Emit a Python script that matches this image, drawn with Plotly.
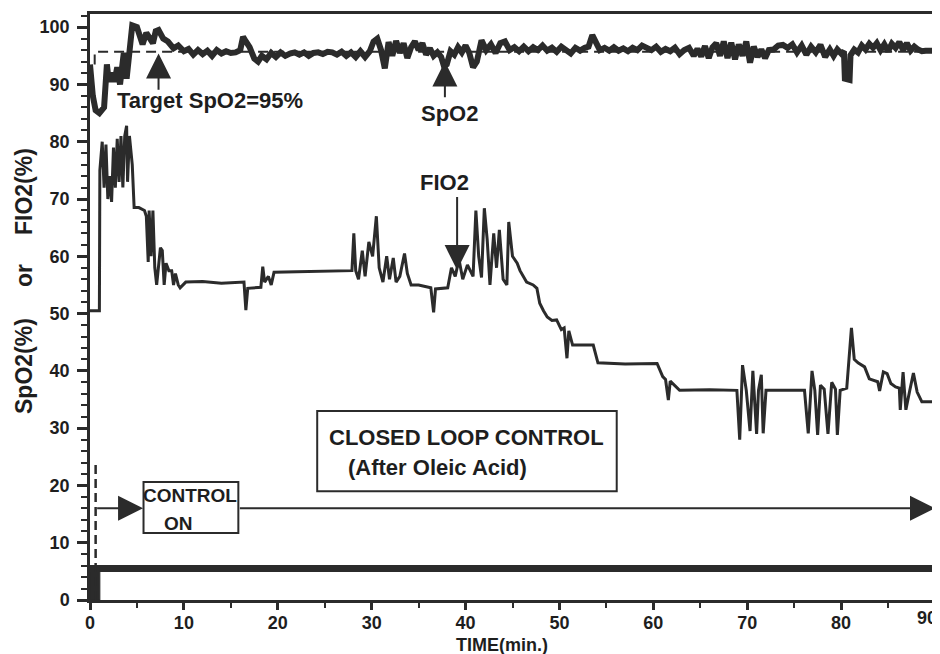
import plotly.graph_objects as go

# ---------------- data ----------------
spo2_t = [0, 0.3, 0.6, 1.0, 1.5, 1.8, 2.0, 2.3, 2.6, 2.9, 3.2, 3.6, 3.9, 4.2, 4.5, 5.0, 5.3, 5.6, 6.0, 6.4,
          6.7, 7.0, 7.3, 7.8, 8.3, 8.9, 9.4, 10.0, 10.5, 11.0, 11.5, 12.0, 12.5, 13.0, 13.5, 14.0, 14.5,
          15.0, 15.5, 16.0, 16.3, 16.6, 17.0, 17.5, 17.9, 18.3, 18.8, 19.3, 19.8, 20.3, 20.8, 21.3, 21.8,
          22.3, 22.8, 23.3, 23.8, 24.3, 24.8, 25.3, 25.8, 26.3, 26.8, 27.3, 27.8, 28.3, 28.8, 29.3, 29.8,
          30.2, 30.6, 31.0, 31.4, 31.8, 32.2, 32.6, 33.0, 33.4, 33.8, 34.2, 34.6, 35.0, 35.4, 35.8, 36.2,
          36.6, 37.0, 37.4, 37.7, 38.0, 38.4, 38.8, 39.2, 39.6, 40.0, 40.4, 40.8, 41.2, 41.7, 42.2, 42.7,
          43.2, 43.7, 44.2, 44.7, 45.2, 45.7, 46.2, 46.7, 47.2, 47.7, 48.2, 48.7, 49.2, 49.7, 50.2, 50.7,
          51.2, 51.7, 52.2, 52.7, 53.1, 53.5, 53.9, 54.3, 54.8, 55.3, 55.8, 56.3, 56.8, 57.3, 57.8, 58.3,
          58.8, 59.3, 59.8, 60.3, 60.8, 61.3, 61.8, 62.3, 62.8, 63.3, 63.8, 64.3, 64.7, 65.1, 65.5, 65.9,
          66.3, 66.7, 67.1, 67.5, 67.9, 68.3, 68.7, 69.1, 69.5, 69.9, 70.3, 70.7, 71.1, 71.5, 71.9, 72.3,
          72.8, 73.3, 73.8, 74.3, 74.8, 75.3, 75.8, 76.3, 76.8, 77.3, 77.8, 78.3, 78.8, 79.2, 79.6, 80.0,
          80.3, 80.4, 80.9, 81.0, 81.4, 81.8, 82.2, 82.6, 83.0, 83.4, 83.8, 84.2, 84.6, 85.0, 85.4, 85.8,
          86.2, 86.6, 87.0, 87.4, 87.8, 88.2, 88.6, 89.0, 90.0]
spo2_v = [93.5, 88, 85.5, 85, 86, 93.5, 90.5, 92, 90.5, 93, 90, 95.5, 91, 96, 100.3, 100, 98.3, 97, 99, 98,
          97.2, 99.3, 99.5, 98, 97.5, 96.3, 96.8, 95.8, 96.2, 95.2, 96, 95.3, 95.9, 95, 96, 95.4, 95.8,
          95.5, 95.6, 96, 98.3, 97.5, 96.5, 94.5, 94, 95, 94.4, 95.5, 94.8, 95.6, 95, 95.4, 95.6,
          95.2, 95.6, 95, 95.5, 95.6, 95.3, 95.7, 95.6, 95.2, 95.7, 95, 95.6, 94.8, 95.8, 94.8, 95.8,
          97.5, 98, 96, 92.8, 97.4, 95, 97.6, 95.5, 97.2, 94.6, 96.5, 97.5, 96, 97.2, 95.2, 96.3,
          95, 95.6, 94.8, 93.2, 93.5, 95.8, 95.2, 96.5, 95.6, 96.8, 95.5, 93, 94, 97.7, 96, 97,
          95.5, 97.2, 97.5, 96, 96.5, 95.8, 96.6, 95.8, 96.5, 96.0, 96.8, 95.9, 96.4, 95.7, 96.6, 96.0,
          95.4, 96.4, 95.9, 96.4, 96.6, 98.6, 97.2, 96.0, 96.4, 95.9, 96.5, 95.9, 96.3, 95.8, 96.4, 96.0,
          96.8, 96.3, 96.0, 96.6, 95.7, 96.2, 95.8, 96.4, 95.3, 96.0, 96.4, 95.0, 96.2, 94.9, 96.7, 94.6,
          96.5, 97.2, 95.0, 97.5, 94.6, 97.3, 94.4, 97.0, 95.0, 97.5, 93.8, 96.6, 94.8, 96.1, 94.6, 96.0,
          96.1, 96.8, 96.9, 96.4, 97.0, 95.6, 96.8, 95.2, 96.6, 95.6, 96.9, 94.8, 96.1, 95.0, 96.1, 95.4,
          95.8, 91, 90.8, 95.1, 96.1, 95.6, 96.8, 96.1, 97.1, 96.4, 97.2, 96.0, 97.0, 95.8, 97.1, 96.4,
          97.4, 96.0, 97.2, 95.9, 96.6, 96.1, 95.8, 95.9, 95.9]

fio2_t = [0, 1.0, 1.05, 1.3, 1.5, 1.7, 1.9, 2.1, 2.3, 2.5, 2.7, 2.9, 3.1, 3.3, 3.5, 3.7, 3.9, 4.0, 4.2, 4.5,
          4.7, 5.2, 5.8, 6.0, 6.2, 6.3, 6.5, 6.7, 6.9, 7.1, 7.5, 7.7, 7.9, 8.1, 8.4, 8.7, 8.9, 9.1, 9.4,
          9.6, 10.2, 12.0, 14.0, 16.4, 16.6, 16.8, 18.2, 18.4, 18.6, 19.0, 19.3, 19.6, 22.0, 25.0, 27.9,
          28.1, 28.3, 28.6, 29.0, 29.3, 29.7, 30.1, 30.5, 30.8, 31.2, 31.6, 31.9, 32.3, 32.6, 33.0, 33.5,
          33.8, 34.2, 35.0, 36.3, 36.6, 36.8, 38.1, 38.5, 38.9, 39.3, 39.7, 40.2, 40.8, 41.1, 41.4, 41.7,
          42.0, 42.3, 42.6, 43.0, 43.3, 43.6, 44.0, 44.4, 44.6, 45.0, 45.5, 45.8, 46.5, 47.2, 47.6, 47.9,
          48.3, 48.7, 49.2, 49.7, 50.2, 50.5, 50.8, 51.0, 51.4, 53.6, 54.1, 57.0, 60.4, 61.0, 61.3, 61.6,
          61.8, 62.5, 62.8, 66.0, 68.9, 69.2, 69.5, 69.9, 70.3, 70.6, 71.0, 71.2, 71.5, 71.7, 72.0, 76.1,
          76.5, 76.9, 77.2, 77.5, 77.8, 78.2, 78.6, 79.0, 79.4, 79.6, 79.9, 80.6, 80.8, 81.1, 81.4, 81.8,
          82.5, 83.0, 83.9, 84.1, 84.5, 84.9, 85.3, 85.8, 86.2, 86.3, 86.6, 86.9, 87.3, 87.7, 88.1, 88.6, 90.0]
fio2_v = [50.5, 50.5, 75, 80, 72, 79.5, 70, 74, 69.5, 79, 72, 80.5, 73, 81, 72, 81, 82.8, 73, 81, 76,
          68.5, 68.5, 68, 67, 59, 68, 60, 68, 58, 55, 61.5, 61, 55, 58.8, 57.5, 57.5, 55, 57, 55,
          54.5, 55.5, 55.6, 55.3, 55.5, 50.6, 54.4, 54.6, 58.2, 55.5, 56.5, 55, 57.2, 57.3, 57.4, 57.5,
          64, 57.5, 56, 61, 56.5, 62.5, 60, 67, 58, 55.5, 60, 56, 59.7, 55.5, 56.5, 60.5,
          57, 55, 55, 54.5, 50.2, 54.3, 54.5, 58, 56.5, 59.5, 56, 58.5, 56.5, 68, 60, 56.3,
          68.4, 63, 55, 64, 58, 64.6, 56, 55, 66, 60, 58.8, 57.5, 55.5, 55, 54.4, 51.8,
          50.5, 49.4, 48.8, 48.9, 47.2, 47.5, 42.2, 47, 44.5, 44.5, 41.4, 41.2, 41.3, 39, 38.5, 34.9,
          38.2, 37.2, 36.6, 36.7, 36.6, 28, 41, 36.6, 29.5, 40, 29, 36.6, 39.3, 29.1, 36.6, 36.6,
          29.1, 40, 36.6, 28.8, 37.5, 36.8, 29, 38, 36.8, 28.8, 36.6, 37, 41, 47.5, 42, 41.4,
          40.7, 38.6, 38.1, 36.5, 39.8, 39.5, 37.8, 37.2, 37, 33.2, 39.8, 33.2, 36.5, 39.6, 36.3, 34.6, 34.6]

target_t = [0.5, 0.5, 90]
target_v = [93.5, 95.7, 95.7]

control_t = [0, 90]
control_v = [5.5, 5.5]
control_block_t = [0, 1.05, 1.05, 0, 0]
control_block_v = [0, 0, 5.5, 5.5, 0]

onset_t = [0.6, 0.6]
onset_v = [0, 24.4]

x_ticks = [0, 10, 20, 30, 40, 50, 60, 70, 80, 90]
y_ticks = [0, 10, 20, 30, 40, 50, 60, 70, 80, 90, 100]

INK = "#2b2b2b"
TXT = "#1e1e1e"
FONT = "Liberation Sans"

# page body has an 8px margin: figure is placed at (8, 8)
OFF = 8
W, H = 940 - OFF, 654 - OFF
PL, PR, PT, PB = 90, 935, 14, 600   # plot-area edges in screen pixels

fig = go.Figure()

fig.add_trace(go.Scatter(x=control_block_t, y=control_block_v, mode="lines", fill="toself",
                         fillcolor=INK, line=dict(color=INK, width=1), hoverinfo="skip"))
fig.add_trace(go.Scatter(x=control_t, y=control_v, mode="lines",
                         line=dict(color=INK, width=7), hoverinfo="skip"))
fig.add_trace(go.Scatter(x=onset_t, y=onset_v, mode="lines",
                         line=dict(color=INK, width=2.5, dash="9px,5px"), hoverinfo="skip"))
fig.add_trace(go.Scatter(x=target_t, y=target_v, mode="lines",
                         line=dict(color=INK, width=2, dash="10px,6px"), hoverinfo="skip"))
fig.add_trace(go.Scatter(x=fio2_t, y=fio2_v, mode="lines", name="FIO2",
                         line=dict(color=INK, width=3)))
fig.add_trace(go.Scatter(x=spo2_t, y=spo2_v, mode="lines", name="SpO2",
                         line=dict(color=INK, width=6)))

# boxes
fig.add_shape(type="rect", x0=5.7, x1=15.8, y0=11.7, y1=20.6, line=dict(color=INK, width=2))
fig.add_shape(type="rect", x0=24.2, x1=56.1, y0=19.0, y1=33.0, line=dict(color=INK, width=2))

tfont = dict(family=FONT, size=22, color=TXT)
sfont = dict(family=FONT, size=19, color=TXT)
bold = lambda s: "<b>" + s + "</b>"
C = dict(showarrow=False, xanchor="center", yanchor="middle")

anns = [
    dict(x=12.8, y=87.2, text=bold("Target SpO2=95%"), font=tfont, **C),
    dict(x=38.3, y=85.0, text=bold("SpO2"), font=tfont, **C),
    dict(x=37.8, y=72.8, text=bold("FIO2"), font=tfont, **C),
    dict(x=40.1, y=28.3, text=bold("CLOSED LOOP CONTROL"), font=tfont, **C),
    dict(x=37.0, y=23.2, text=bold("(After Oleic Acid)"), font=tfont, **C),
    dict(x=10.7, y=18.2, text=bold("CONTROL"), font=sfont, **C),
    dict(x=9.4, y=13.3, text=bold("ON"), font=sfont, **C),
]
# arrows
arrow_common = dict(text="", showarrow=True, axref="x", ayref="y", arrowcolor=INK,
                    arrowhead=2, arrowwidth=2, arrowsize=2.5, standoff=0, startstandoff=0)
anns += [
    dict(x=7.3, y=95.4, ax=7.3, ay=88.8, **arrow_common),
    dict(x=37.8, y=94.0, ax=37.8, ay=87.5, **arrow_common),
    dict(x=39.1, y=57.6, ax=39.1, ay=70.6, **arrow_common),
    dict(x=5.65, y=16.0, ax=0.6, ay=16.0, **arrow_common),
    dict(x=90.0, y=16.0, ax=15.8, ay=16.0, **arrow_common),
]

def px2paper(px, py):
    return (px - PL) / (PR - PL), (PB - py) / (PB - PT)

tx, ty = px2paper(502, 645)
fx, fy = px2paper(24, 192)
ox, oy = px2paper(24, 276)
sx, sy = px2paper(24, 366)
nx, ny = px2paper(938, 618)
yfont = dict(family=FONT, size=23, color=TXT)
tickfont = dict(family=FONT, size=18, color=TXT)
anns += [
    dict(xref="paper", yref="paper", x=tx, y=ty, text=bold("TIME(min.)"),
         font=dict(family=FONT, size=18, color=TXT), **C),
    dict(xref="paper", yref="paper", x=fx, y=fy, text=bold("FIO2(%)"), textangle=-90, font=yfont, **C),
    dict(xref="paper", yref="paper", x=ox, y=oy, text=bold("or"), textangle=-90, font=yfont, **C),
    dict(xref="paper", yref="paper", x=sx, y=sy, text=bold("SpO2(%)"), textangle=-90, font=yfont, **C),
    # last x tick label sits against the right edge of the page
    dict(xref="paper", yref="paper", x=nx, y=ny, text=bold(str(x_ticks[-1])), font=tickfont,
         showarrow=False, xanchor="right", yanchor="middle", borderpad=0),
]
fig.update_layout(annotations=anns)

axis_common = dict(showgrid=False, zeroline=False, showline=True, linecolor=INK, linewidth=2.5,
                   mirror=True, ticks="outside", tickcolor=INK, tickwidth=2.5, automargin=False,
                   ticklabeloverflow="allow", tickfont=tickfont)
fig.update_xaxes(range=[0, 90], tickmode="array", tickvals=x_ticks,
                 ticktext=[bold(str(v)) for v in x_ticks[:-1]] + [""],
                 ticklen=7, ticklabelstandoff=-2,
                 minor=dict(dtick=5, ticks="outside", ticklen=5, tickcolor=INK, tickwidth=2),
                 **axis_common)
fig.update_yaxes(range=[0, 102.3], tickmode="array", tickvals=y_ticks,
                 ticktext=[bold(str(v)) for v in y_ticks],
                 ticklen=10, ticklabelstandoff=4,
                 minor=dict(dtick=2, ticks="outside", ticklen=6, tickcolor=INK, tickwidth=2),
                 **axis_common)

fig.update_layout(width=W, height=H,
                  margin=dict(l=PL - OFF, r=940 - PR, t=PT - OFF, b=654 - PB, autoexpand=False),
                  paper_bgcolor="white", plot_bgcolor="white", showlegend=False)

fig.write_html("out.html")
